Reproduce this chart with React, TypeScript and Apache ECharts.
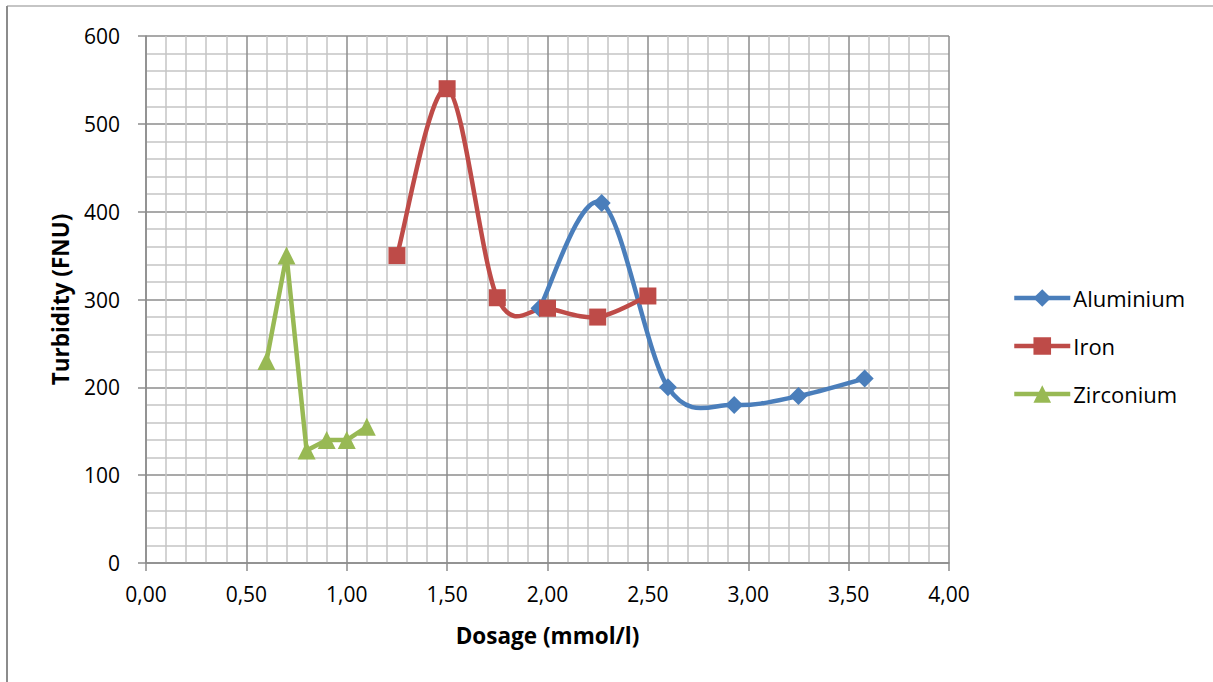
import React, { useEffect, useRef } from "react";
import * as echarts from "echarts";

const alX = [1.96, 2.27, 2.6, 2.93, 3.25, 3.58];
const alY = [290, 410, 200, 180, 190, 210];
const feX = [1.25, 1.5, 1.75, 2.0, 2.25, 2.5];
const feY = [350, 540, 302, 290, 280, 304];
const zrX = [0.6, 0.7, 0.8, 0.9, 1.0, 1.1];
const zrY = [230, 350, 128, 140, 140, 155];
const seriesNames = ["Aluminium", "Iron", "Zirconium"];
const xTitle = "Dosage (mmol/l)";
const yTitle = "Turbidity (FNU)";

const pairs = (xs: number[], ys: number[]) => xs.map((x, i) => [x, ys[i]]);

// Excel-style smoothed curve (Catmull-Rom Bezier in pixel space), via the chart's own coord system
const smoothCurve = (name: string, xs: number[], ys: number[], color: string) => ({
  type: "custom",
  name,
  coordinateSystem: "cartesian2d",
  silent: true,
  data: [[xs[0], ys[0]]],
  renderItem: (_params: any, api: any) => {
    const pts: number[][] = xs.map((x, i) => api.coord([x, ys[i]]));
    let d = `M${pts[0][0]},${pts[0][1]}`;
    for (let i = 0; i < pts.length - 1; i++) {
      const p0 = pts[i - 1] || pts[i];
      const p1 = pts[i];
      const p2 = pts[i + 1];
      const p3 = pts[i + 2] || pts[i + 1];
      const c1x = p1[0] + (p2[0] - p0[0]) / 6;
      const c1y = p1[1] + (p2[1] - p0[1]) / 6;
      const c2x = p2[0] - (p3[0] - p1[0]) / 6;
      const c2y = p2[1] - (p3[1] - p1[1]) / 6;
      d += ` C${c1x},${c1y} ${c2x},${c2y} ${p2[0]},${p2[1]}`;
    }
    return {
      type: "path",
      shape: { pathData: d },
      style: { fill: "none", stroke: color, lineWidth: 4.5, lineJoin: "round", lineCap: "round" },
    };
  },
});

export default function App() {
  const ref = useRef<HTMLDivElement>(null);
  useEffect(() => {
    if (!ref.current) return;
    const chart = echarts.init(ref.current, null, { renderer: "svg" });
    const font = "'Open Sans', 'Noto Sans', sans-serif";
    const major = "#8c8c8c";
    const minor = "#c4c4c4";
    const cAl = "#4a7ebb";
    const cFe = "#be4b48";
    const cZr = "#98b954";
    chart.setOption({
      animation: false,
      backgroundColor: "#ffffff",
      textStyle: { fontFamily: font },
      grid: { left: 146, right: 264, top: 36, bottom: 119, containLabel: false },
      graphic: [
        { type: "line", shape: { x1: 7, y1: 6, x2: 1213, y2: 6 }, style: { stroke: "#8c8c8c", lineWidth: 1.2 } },
        { type: "line", shape: { x1: 7, y1: 6, x2: 7, y2: 682 }, style: { stroke: "#8c8c8c", lineWidth: 2 } },
      ],
      legend: {
        orient: "vertical",
        left: 1012,
        top: 284,
        padding: 0,
        itemWidth: 56,
        itemHeight: 22,
        itemGap: 20,
        lineStyle: { width: 4.5 },
        textStyle: { fontFamily: font, fontSize: 22, color: "#000", lineHeight: 28, padding: [0, 0, 0, -2] },
        data: seriesNames,
      },
      xAxis: {
        type: "value",
        min: 0,
        max: 4,
        interval: 0.5,
        name: xTitle,
        nameLocation: "middle",
        nameGap: 61,
        nameTextStyle: { fontFamily: font, fontSize: 22.5, fontWeight: "bold", color: "#000" },
        axisLine: { show: true, onZero: false, lineStyle: { color: major, width: 1.5 } },
        axisTick: { show: true, length: 8, lineStyle: { color: major, width: 1.5 } },
        axisLabel: {
          margin: 20,
          fontSize: 21,
          color: "#000",
          fontFamily: font,
          formatter: (v: number) => v.toFixed(2).replace(".", ","),
        },
        splitLine: { show: true, lineStyle: { color: major, width: 1.5 } },
        minorTick: { show: false, splitNumber: 5 },
        minorSplitLine: { show: true, lineStyle: { color: minor, width: 1.5 } },
      },
      yAxis: {
        type: "value",
        min: 0,
        max: 600,
        interval: 100,
        name: yTitle,
        nameLocation: "middle",
        nameGap: 74,
        nameRotate: 90,
        nameTextStyle: { fontFamily: font, fontSize: 22.5, fontWeight: "bold", color: "#000" },
        axisLine: { show: true, lineStyle: { color: major, width: 1.5 } },
        axisTick: { show: true, length: 8, lineStyle: { color: major, width: 1.5 } },
        axisLabel: { margin: 26, fontSize: 21, color: "#000", fontFamily: font },
        splitLine: { show: true, lineStyle: { color: major, width: 1.5 } },
        minorTick: { show: false, splitNumber: 5 },
        minorSplitLine: { show: true, lineStyle: { color: minor, width: 1.5 } },
      },
      series: [
        smoothCurve("Aluminium curve", alX, alY, cAl),
        {
          name: seriesNames[0],
          type: "line",
          data: pairs(alX, alY),
          symbol: "diamond",
          symbolSize: 18,
          color: cAl,
          lineStyle: { width: 0, color: cAl },
          itemStyle: { color: cAl },
        },
        smoothCurve("Iron curve", feX, feY, cFe),
        {
          name: seriesNames[1],
          type: "line",
          data: pairs(feX, feY),
          symbol: "rect",
          symbolSize: 17,
          color: cFe,
          lineStyle: { width: 0, color: cFe },
          itemStyle: { color: cFe },
        },
        {
          name: seriesNames[2],
          type: "line",
          data: pairs(zrX, zrY),
          smooth: false,
          symbol: "triangle",
          symbolSize: 18,
          color: cZr,
          lineStyle: { width: 4.5, color: cZr },
          itemStyle: { color: cZr },
        },
      ],
    });
    return () => chart.dispose();
  }, []);
  return (
    <div
      ref={ref}
      style={{ position: "fixed", left: 0, top: 0, width: 1213, height: 682, background: "#fff" }}
    />
  );
}
